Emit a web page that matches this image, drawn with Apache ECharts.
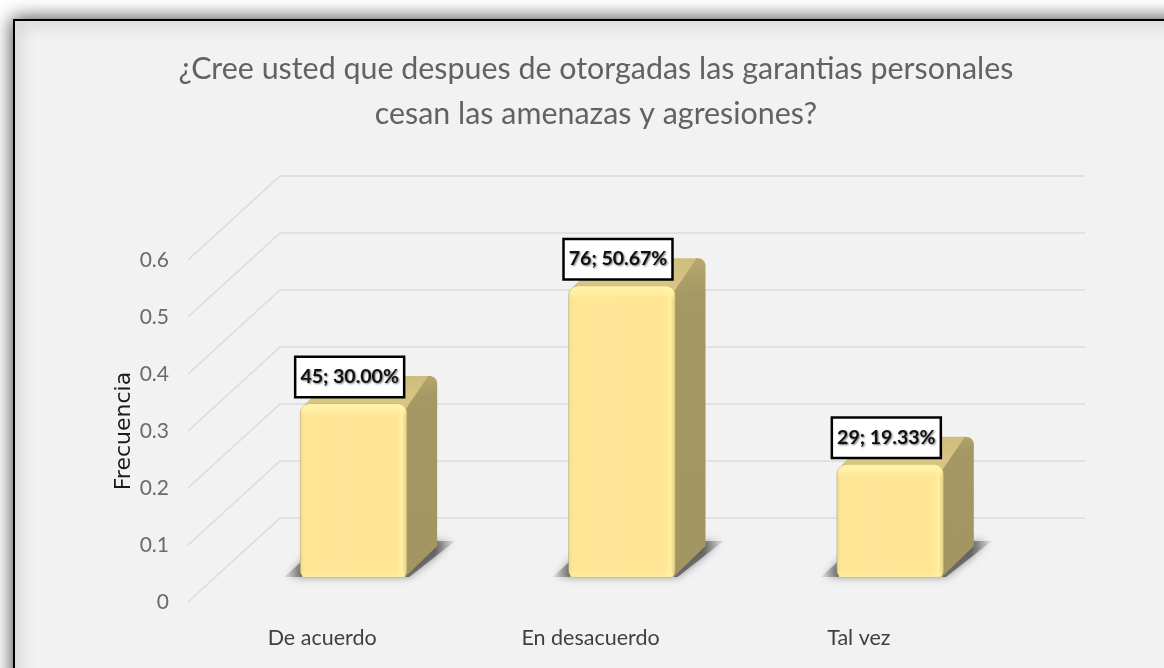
<!DOCTYPE html>
<html><head><meta charset="utf-8">
<style>html,body{margin:0;padding:0;background:#fff}#c{width:1164px;height:668px}</style>
<script src="https://cdn.jsdelivr.net/npm/echarts@6/dist/echarts.min.js"></script>
</head><body><div id="c"></div>
<script>
var titleText = '¿Cree usted que despues de otorgadas las garantias personales\ncesan las amenazas y agresiones?';
var axisName = 'Frecuencia';
var categories = ['De acuerdo', 'En desacuerdo', 'Tal vez'];
var shares = [0.30, 0.5067, 0.1933];
var counts = [45, 76, 29];
var barLabels = ['45; 30.00%', '76; 50.67%', '29; 19.33%'];
var yTicks = [0, 0.1, 0.2, 0.3, 0.4, 0.5, 0.6];

var DEPTH_X = 92, DEPTH_Y = 84, BACK_RIGHT = 1085;
var BAR_SHIFT_X = 31.5, BAR_SHIFT_Y = 25, BAR_W = 107, SIDE_X = 30, SIDE_Y = 28, BEVEL = 2;
var FONT = 'Lato, "Noto Sans", sans-serif';

function rounded(p0, c, p1, r) {
  function toward(a, b, d) {
    var l = Math.hypot(b[0] - a[0], b[1] - a[1]);
    return [a[0] + (b[0] - a[0]) * d / l, a[1] + (b[1] - a[1]) * d / l];
  }
  var s = toward(c, p0, r), e = toward(c, p1, r), out = [];
  for (var i = 0; i <= 5; i++) {
    var t = i / 5, u = 1 - t;
    out.push([u * u * s[0] + 2 * u * t * c[0] + t * t * e[0], u * u * s[1] + 2 * u * t * c[1] + t * t * e[1]]);
  }
  return out;
}
function grad(x0, y0, x1, y1, stops) {
  return new echarts.graphic.LinearGradient(x0, y0, x1, y1, stops.map(function (s) { return { offset: s[0], color: s[1] }; }));
}

var option = {
  animation: false,
  backgroundColor: '#fff',
  graphic: [{
    type: 'rect', z: -10, silent: true,
    shape: { x: 14, y: 20, width: 1250, height: 750 },
    style: { fill: '#f2f2f2', stroke: '#000', lineWidth: 2, shadowBlur: 18, shadowColor: 'rgba(0,0,0,0.75)' }
  }],
  title: {
    text: titleText, left: 591, top: 42, textAlign: 'center',
    textStyle: { fontFamily: FONT, fontSize: 30.4, fontWeight: 'normal', color: '#626262', lineHeight: 45 }
  },
  grid: { left: 188, top: 260, width: 805, height: 342 },
  xAxis: {
    type: 'category', data: categories,
    axisLine: { show: false }, axisTick: { show: false },
    axisLabel: { fontFamily: FONT, fontSize: 21.5, color: '#404040', margin: 25 }
  },
  yAxis: {
    type: 'value', min: 0, max: 0.6, interval: 0.1,
    splitLine: { show: false }, axisLine: { show: false }, axisTick: { show: false },
    axisLabel: { fontFamily: FONT, fontSize: 21, color: '#6a6a6a', margin: 19 },
    name: axisName, nameLocation: 'middle', nameGap: 53, nameMoveOverlap: false,
    nameTextStyle: { fontFamily: 'DejaVu Sans', fontSize: 22, color: '#1a1a1a' }
  },
  series: [{
    type: 'custom', z: 1, silent: true, clip: false,
    data: yTicks.map(function (v) { return [0, v]; }),
    renderItem: function (params, api) {
      var y = api.coord([0, api.value(1)])[1], x = params.coordSys.x;
      return {
        type: 'polyline',
        shape: { points: [[x, y], [x + DEPTH_X, y - DEPTH_Y], [BACK_RIGHT, y - DEPTH_Y]] },
        style: { fill: null, stroke: '#dcdcdc', lineWidth: 1.5 }
      };
    }
  }, {
    type: 'custom', z: 2, silent: true, clip: false,
    data: shares.map(function (v, i) { return [i, v, counts[i]]; }),
    renderItem: function (params, api) {
      var idx = api.value(0);
      var top = api.coord([idx, api.value(1)]);
      var base = api.coord([idx, 0]);
      var cx = top[0] + BAR_SHIFT_X;
      var L = cx - BAR_W / 2, R = cx + BAR_W / 2;
      var T = top[1] - BAR_SHIFT_Y - BEVEL, B = base[1] - BAR_SHIFT_Y;
      var kids = [];
      kids.push({
        type: 'polygon',
        shape: { points: [[L - 16, B], [L + 4, B - 18], [R + SIDE_X - 4, B - SIDE_Y - 8], [R + SIDE_X + 18, B - SIDE_Y - 8], [R + 2, B]] },
        style: {
          fill: grad(0, 0, 1, 0, [[0, 'rgba(110,110,110,0.1)'], [0.11, 'rgba(85,85,85,0.75)'], [0.88, 'rgba(80,80,80,0.75)'], [1, 'rgba(110,110,110,0.1)']]),
          shadowBlur: 8, shadowColor: 'rgba(70,70,70,0.75)'
        }
      });
      var tr = [R + SIDE_X, T - SIDE_Y];
      var topPts = [[L + 4, T + 1], [L + SIDE_X + 4, T - SIDE_Y]]
        .concat(rounded([L + SIDE_X, T - SIDE_Y], tr, [R + SIDE_X, B], 9))
        .concat([[R, T + 8]]);
      kids.push({ type: 'polygon', shape: { points: topPts }, style: { fill: grad(0, 1, 0, 0, [[0, '#d9c885'], [1, '#cfbd7f']]) } });
      var sidePts = rounded([L + SIDE_X, T - SIDE_Y], tr, [R + SIDE_X, B], 9)
        .concat([[R + SIDE_X, B - SIDE_Y - 3], [R - 2, B], [R - 2, T + 6]]);
      kids.push({ type: 'polygon', shape: { points: sidePts }, style: { fill: grad(0, 0, 1, 1, [[0, '#b8a86f'], [0.12, '#a69864'], [1, '#a39562']]) } });
      kids.push({
        type: 'rect', shape: { x: L, y: T, width: BAR_W, height: B - T, r: [9, 9, 6, 6] },
        style: {
          fill: grad(0, 0, 1, 0, [[0, '#c7b678'], [0.012, '#f4dc8e'], [0.04, '#ffe696'], [0.9, '#ffe594'], [0.95, '#fff0a2'], [0.985, '#e8d389'], [1, '#bcab70']]),
          stroke: 'rgba(150,140,100,0.4)', lineWidth: 0.6
        }
      });
      kids.push({
        type: 'rect', shape: { x: L + 1, y: T, width: BAR_W - 2, height: 14, r: [9, 9, 0, 0] },
        style: { fill: grad(0, 0, 0, 1, [[0, 'rgba(255,245,175,0.9)'], [0.5, 'rgba(255,242,165,0.8)'], [1, 'rgba(255,230,150,0)']]) }
      });
      kids.push({
        type: 'rect', shape: { x: L + 2, y: B - 6, width: BAR_W - 4, height: 6 },
        style: { fill: grad(0, 0, 0, 1, [[0, 'rgba(255,240,160,0)'], [1, 'rgba(255,240,165,0.9)']]) }
      });
      kids.push({
        type: 'text', z2: 20,
        style: {
          text: barLabels[params.dataIndex], x: cx - 4, y: T - 27,
          align: 'center', verticalAlign: 'middle',
          font: 'bold 19.5px ' + FONT, fill: '#111',
          backgroundColor: '#fff', borderColor: '#000', borderWidth: 2.5,
          padding: [9, 4, 9, 4],
          textShadowColor: 'rgba(0,0,0,0.55)', textShadowBlur: 2, textShadowOffsetX: 1, textShadowOffsetY: 1
        }
      });
      return { type: 'group', children: kids };
    }
  }]
};
echarts.init(document.getElementById('c'), null, { renderer: 'canvas' }).setOption(option);
</script></body></html>
